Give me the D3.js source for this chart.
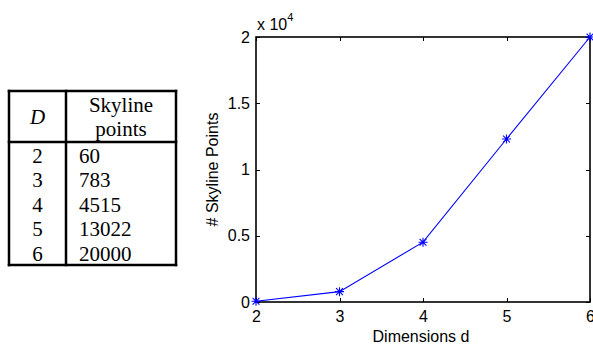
<!DOCTYPE html>
<html lang="en">
	<head>
		<meta charset="utf-8">
		<title>Skyline points</title>
		<script type="text/javascript" src="https://cdn.jsdelivr.net/npm/d3@7"></script>
		<style>
			body { margin: 0; background: #fff; }
			.axis line { stroke: #000; stroke-width: 1px; shape-rendering: crispEdges; }
			.title { font-family: Arial, "Liberation Sans", Helvetica, sans-serif; font-size: 16px; fill: #000; }
			.tbl text { font-family: "Times New Roman", "Liberation Serif", serif; font-size: 21px; fill: #000; }
		</style>
	</head>
	<body>
		<script type="text/javascript">

			var w = 593;
			var h = 345;

			// data
			var dims = [2, 3, 4, 5, 6];
			var tableCounts = ["60", "783", "4515", "13022", "20000"];
			var plotCounts = [60, 783, 4515, 12300, 20000];   // as drawn in the plot
			var xTicks = [2, 3, 4, 5, 6];
			var yTicks = [0, 5000, 10000, 15000, 20000];
			var yTickLabels = ["0", "0.5", "1", "1.5", "2"];

			var svg = d3.select("body")
				.append("svg")
				.attr("width", w)
				.attr("height", h);

			// ---------- table ----------
			var tL = 9, tR = 176, tMid = 66, tTop = 91, tHead = 142, tBot = 265;
			var tbl = svg.append("g").attr("class", "tbl");

			var rowScale = d3.scaleBand()
				.domain(dims)
				.range([tHead, tBot]);

			var borders = [
				[tL, tTop, tR, tTop], [tL, tHead, tR, tHead], [tL, tBot, tR, tBot],
				[tL, tTop, tL, tBot], [tMid, tTop, tMid, tBot], [tR, tTop, tR, tBot]
			];
			tbl.selectAll("line")
				.data(borders)
				.enter()
				.append("line")
				.attr("x1", function(d){ return d[0]; })
				.attr("y1", function(d){ return d[1]; })
				.attr("x2", function(d){ return d[2]; })
				.attr("y2", function(d){ return d[3]; })
				.attr("stroke", "#000")
				.attr("stroke-width", 2.5)
				.attr("stroke-linecap", "square");

			tbl.append("text")
				.attr("x", (tL + tMid) / 2)
				.attr("y", (tTop + tHead) / 2)
				.attr("dy", "0.35em")
				.attr("text-anchor", "middle")
				.style("font-style", "italic")
				.text("D");
			tbl.append("text")
				.attr("x", (tMid + tR) / 2)
				.attr("y", 105)
				.attr("dy", "0.35em")
				.attr("text-anchor", "middle")
				.text("Skyline");
			tbl.append("text")
				.attr("x", (tMid + tR) / 2)
				.attr("y", 129)
				.attr("dy", "0.35em")
				.attr("text-anchor", "middle")
				.text("points");

			tbl.selectAll("text.dim")
				.data(dims)
				.enter()
				.append("text")
				.attr("class", "dim")
				.attr("x", (tL + tMid) / 2)
				.attr("y", function(d){ return rowScale(d) + rowScale.bandwidth() / 2 + 1; })
				.attr("dy", "0.35em")
				.attr("text-anchor", "middle")
				.text(function(d){ return d; });

			tbl.selectAll("text.cnt")
				.data(tableCounts)
				.enter()
				.append("text")
				.attr("class", "cnt")
				.attr("x", tMid + 13)
				.attr("y", function(d, i){ return rowScale(dims[i]) + rowScale.bandwidth() / 2 + 1; })
				.attr("dy", "0.35em")
				.text(function(d){ return d; });

			// ---------- plot ----------
			var pL = 256, pR = 590, pT = 37, pB = 302;

			var xScale = d3.scaleLinear()
				.domain([2, 6])
				.range([pL, pR]);

			var yScale = d3.scaleLinear()
				.domain([0, 20000])
				.range([pB, pT]);

			var tick = 4;

			function styleAxis(g) {
				g.select(".domain").remove();
				g.selectAll("text")
					.attr("fill", "#000")
					.style("font-family", "Arial, 'Liberation Sans', Helvetica, sans-serif")
					.style("font-size", "16px");
			}

			svg.append("g")
				.attr("class", "axis")
				.attr("transform", "translate(0," + pB + ")")
				.call(d3.axisBottom(xScale).tickValues(xTicks).tickSizeInner(-tick).tickSizeOuter(0).tickPadding(9)
					.tickFormat(d3.format("d")))
				.call(styleAxis);

			svg.append("g")
				.attr("class", "axis")
				.attr("transform", "translate(0," + pT + ")")
				.call(d3.axisTop(xScale).tickValues(xTicks).tickSizeInner(-tick).tickSizeOuter(0).tickFormat(""))
				.call(styleAxis);

			svg.append("g")
				.attr("class", "axis")
				.attr("transform", "translate(" + pL + ",0)")
				.call(d3.axisLeft(yScale).tickValues(yTicks).tickSizeInner(-tick).tickSizeOuter(0).tickPadding(6)
					.tickFormat(function(d, i){ return yTickLabels[i]; }))
				.call(styleAxis);

			svg.append("g")
				.attr("class", "axis")
				.attr("transform", "translate(" + pR + ",0)")
				.call(d3.axisRight(yScale).tickValues(yTicks).tickSizeInner(-tick).tickSizeOuter(0).tickFormat(""))
				.call(styleAxis);

			// box
			svg.append("rect")
				.attr("x", pL)
				.attr("y", pT)
				.attr("width", pR - pL)
				.attr("height", pB - pT)
				.attr("fill", "none")
				.attr("stroke", "#000")
				.attr("stroke-width", 1.6);

			// exponent label
			var expo = svg.append("text")
				.attr("class", "title")
				.attr("x", pL + 1)
				.attr("y", 30);
			expo.append("tspan").text("x 10");
			expo.append("tspan")
				.attr("dy", -9)
				.style("font-size", "11px")
				.text("4");

			// axis titles
			svg.append("text")
				.attr("class", "title")
				.attr("x", (pL + pR) / 2 - 2)
				.attr("y", 342)
				.attr("text-anchor", "middle")
				.text("Dimensions d");

			svg.append("text")
				.attr("class", "title")
				.attr("transform", "translate(218," + ((pT + pB) / 2) + ") rotate(-90)")
				.attr("text-anchor", "middle")
				.text("# Skyline Points");

			// line + markers
			var pts = dims.map(function(d, i){ return { d: d, v: plotCounts[i] }; });

			var line = d3.line()
				.x(function(p){ return xScale(p.d); })
				.y(function(p){ return yScale(p.v); });

			svg.append("path")
				.datum(pts)
				.attr("d", line)
				.attr("fill", "none")
				.attr("stroke", "#0000ff")
				.attr("stroke-width", 1.1);

			var r = 4.5, rd = 3.4;
			var star = "M" + (-r) + ",0H" + r + "M0," + (-r) + "V" + r +
				"M" + (-rd) + "," + (-rd) + "L" + rd + "," + rd +
				"M" + (-rd) + "," + rd + "L" + rd + "," + (-rd);

			svg.selectAll("path.star")
				.data(pts)
				.enter()
				.append("path")
				.attr("class", "star")
				.attr("transform", function(p){ return "translate(" + xScale(p.d) + "," + yScale(p.v) + ")"; })
				.attr("d", star)
				.attr("fill", "none")
				.attr("stroke", "#0000ff")
				.attr("stroke-width", 1.1);

		</script>
	</body>
</html>
